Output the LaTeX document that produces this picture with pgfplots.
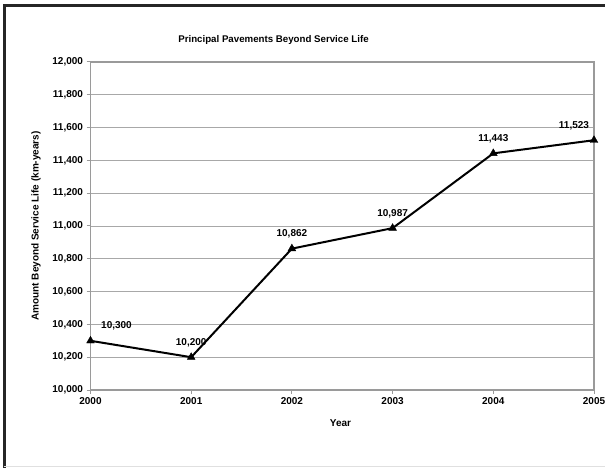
\documentclass[border=0pt]{standalone}
\usepackage{pgfplots}
\pgfplotsset{compat=1.18}
\usepackage{fontspec}
\setmainfont{Liberation Sans}
\definecolor{axgray}{HTML}{9A9A9A}
\definecolor{gridgray}{HTML}{A8A8A8}
\begin{document}
\begin{tikzpicture}
\useasboundingbox (0bp,0bp) rectangle (605bp,468bp);
\draw[line width=3bp, color=black!85] (4.2bp,0bp) -- (4.2bp,462bp) -- (605bp,462bp);
\draw[line width=0.8bp, color=black!12] (4.2bp,1.3bp) -- (605bp,1.3bp);
\node[anchor=base, font=\fontsize{9.7bp}{11bp}\selectfont\bfseries] at (273.5bp,425.3bp) {Principal Pavements Beyond Service Life};
\node[anchor=base, font=\fontsize{10bp}{12bp}\selectfont\bfseries] at (340.5bp,41.3bp) {Year};
\node[anchor=base, rotate=90, font=\fontsize{10bp}{12bp}\selectfont\bfseries] at (38.5bp,242bp) {Amount Beyond Service Life (km-years)};
\begin{axis}[
  at={(90.5bp,78bp)}, anchor=south west,
  scale only axis, width=503.5bp, height=328bp,
  xmin=2000, xmax=2005, ymin=10000, ymax=12000,
  xtick={2000,2001,2002,2003,2004,2005},
  ytick={10000,10200,10400,10600,10800,11000,11200,11400,11600,11800,12000},
  scaled y ticks=false, scaled x ticks=false,
  /pgf/number format/.cd, fixed, precision=0, 1000 sep={,}, assume math mode=true,
  /pgfplots/.cd,
  xticklabel style={/pgf/number format/1000 sep={}},
  tick label style={font=\fontsize{10bp}{12bp}\selectfont\bfseries, black},
  tick align=outside, major tick length=4bp,
  xtick pos=bottom, ytick pos=left,
  every tick/.style={axgray, line width=1bp},
  axis line style={axgray, line width=1.8bp},
  ymajorgrids, major grid style={gridgray, line width=0.9bp},
  clip=false,
]
\addplot[black, line width=2bp, mark=triangle*, mark size=4.5bp, mark options={solid, line width=0.4bp}]
  coordinates {(2000,10300)(2001,10200)(2002,10862)(2003,10987)(2004,11443)(2005,11523)};
\addplot[draw=none, nodes near coords, every node near coord/.style={anchor=base, yshift=12bp, xshift=26bp, font=\fontsize{10bp}{12bp}\selectfont\bfseries}]
  coordinates {(2000,10300)};
\addplot[draw=none, nodes near coords, every node near coord/.style={anchor=base, yshift=12bp, font=\fontsize{10bp}{12bp}\selectfont\bfseries}]
  coordinates {(2001,10200)(2002,10862)(2003,10987)(2004,11443)};
\addplot[draw=none, nodes near coords, every node near coord/.style={anchor=base, yshift=12bp, xshift=-20bp, font=\fontsize{10bp}{12bp}\selectfont\bfseries}]
  coordinates {(2005,11523)};
\end{axis}
\end{tikzpicture}
\end{document}
